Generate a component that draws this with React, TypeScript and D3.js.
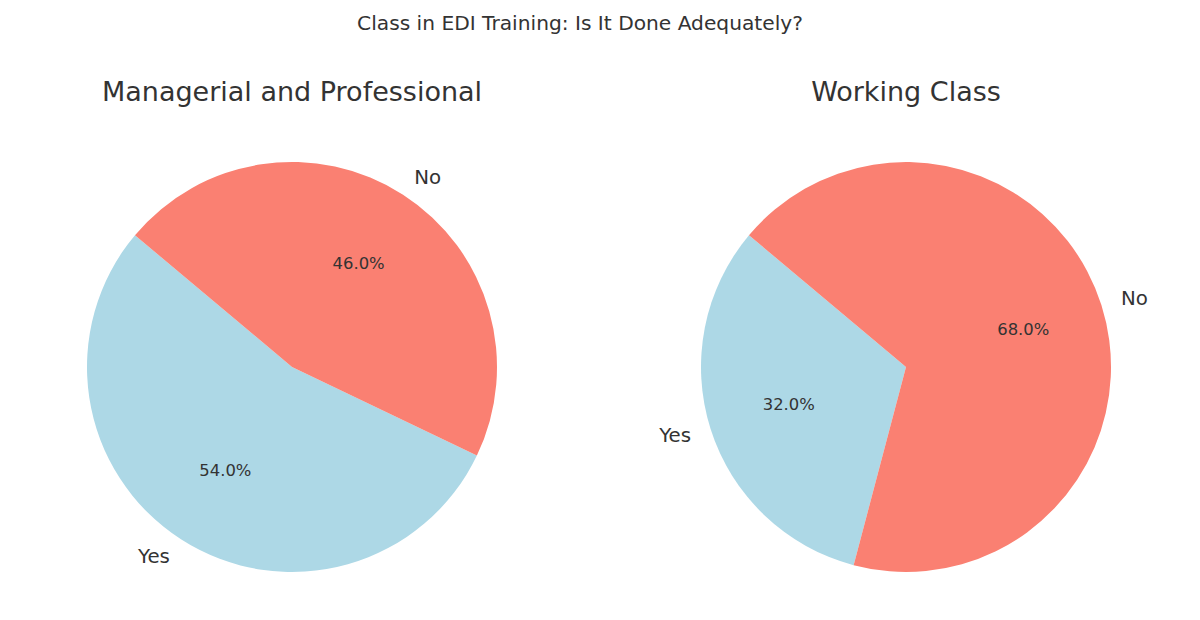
import * as d3 from 'd3';

const title = 'Class in EDI Training: Is It Done Adequately?';
const answers = ['Yes', 'No'];
const groups = ['Managerial and Professional', 'Working Class'];
const managerialValues = [54, 46];
const workingValues = [32, 68];
const colors = ['#ADD8E6', '#FA8072'];

const W = 1200;
const H = 620;
const FONT = 'DejaVu Sans, sans-serif';
const TEXT = '#333333';

// matplotlib startangle=140, counterclockwise -> d3 angles (clockwise from 12 o'clock)
const START = ((90 - 140) * Math.PI) / 180;

type Slice = { label: string; value: number; color: string };

function Pie({ name, values, cx, cy, r }: { name: string; values: number[]; cx: number; cy: number; r: number }) {
  const data: Slice[] = answers.map((a, i) => ({ label: a, value: values[i], color: colors[i] }));
  const total = d3.sum(values);
  const pie = d3
    .pie<Slice>()
    .value(d => d.value)
    .sort(null)
    .startAngle(START)
    .endAngle(START - 2 * Math.PI);
  const arc = d3.arc<d3.PieArcDatum<Slice>>().innerRadius(0).outerRadius(r);
  const arcs = pie(data);

  return (
    <g transform={`translate(${cx},${cy})`}>
      <text x={0} y={-r - 71} textAnchor="middle" dominantBaseline="central" fontSize={27} fill={TEXT} fontFamily={FONT}>
        {name}
      </text>
      {arcs.map(a => (
        <path key={a.data.label} d={arc(a) || ''} fill={a.data.color} />
      ))}
      {arcs.map(a => {
        const mid = (a.startAngle + a.endAngle) / 2;
        const sx = Math.sin(mid);
        const sy = -Math.cos(mid);
        return (
          <g key={'t' + a.data.label}>
            <text
              x={sx * r * 1.1}
              y={sy * r * 1.1}
              textAnchor={sx < 0 ? 'end' : 'start'}
              dominantBaseline="central"
              fontSize={19.8}
              fill={TEXT}
              fontFamily={FONT}
            >
              {a.data.label}
            </text>
            <text
              x={sx * r * 0.6}
              y={sy * r * 0.6}
              textAnchor="middle"
              dominantBaseline="central"
              fontSize={16.4}
              fill={TEXT}
              fontFamily={FONT}
            >
              {((a.data.value / total) * 100).toFixed(1)}%
            </text>
          </g>
        );
      })}
    </g>
  );
}

export default function App() {
  return (
    <svg width={W} height={H} style={{ position: 'absolute', left: 0, top: 0, background: '#fff' }}>
      <rect width={W} height={H} fill="#fff" />
      <text x={580} y={23} textAnchor="middle" dominantBaseline="central" fontSize={20.2} fill={TEXT} fontFamily={FONT}>
        {title}
      </text>
      <Pie name={groups[0]} values={managerialValues} cx={292} cy={367} r={205} />
      <Pie name={groups[1]} values={workingValues} cx={906} cy={367} r={205} />
    </svg>
  );
}
